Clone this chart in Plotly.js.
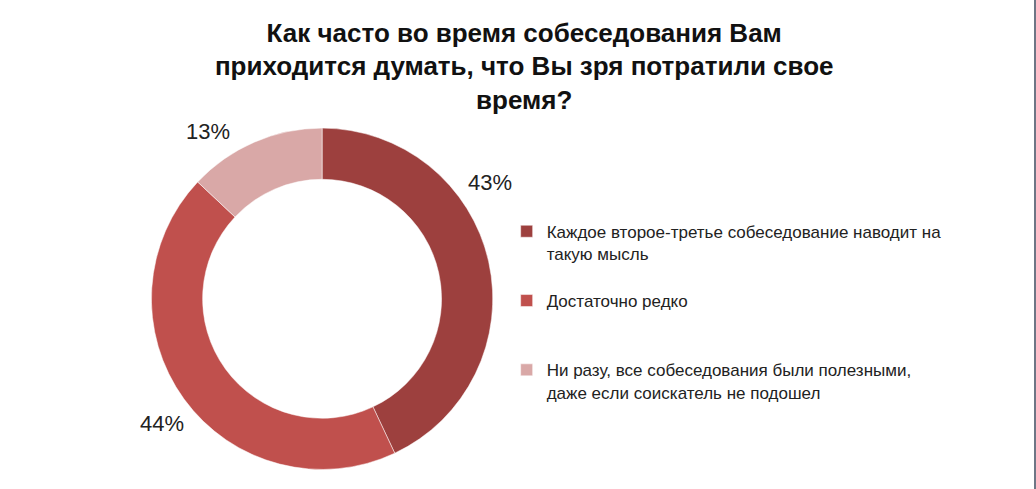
<!DOCTYPE html>
<html>
<head>
<meta charset="utf-8">
<script src="https://cdn.plot.ly/plotly-3.0.1.min.js"></script>
<style>
  body { margin: 0; background: #fff; }
  #chart { width: 1034px; height: 489px; border-right: 2px solid #6e7685; }
</style>
</head>
<body>
<div id="chart"></div>
<script>
"use strict";

var labels = [
  "Каждое второе-третье собеседование наводит на<br>такую мысль<br> ",
  "Достаточно редко<br> <br> ",
  "Ни разу, все собеседования были полезными,<br>даже если соискатель не подошел"
];
var values = [43, 44, 13]; // %
var colors = ["#9D403E", "#C0504D", "#D9A8A7"];

// where Excel put the percent labels (paper fractions)
var labelX = [0.474, 0.157, 0.201];
var labelY = [0.626, 0.133, 0.732];

var data = [{
  type: "pie",
  labels: labels,
  values: values,
  hole: 0.7,
  sort: false,
  direction: "clockwise",
  rotation: 0,
  marker: {colors: colors, line: {color: "#ffffff", width: 0.5}},
  textinfo: "none",
  domain: {x: [0.146, 0.477], y: [0.04, 0.738]},
  hoverinfo: "label+percent"
}];

var annotations = values.map(function (v, i) {
  return {
    text: v + "%",
    x: labelX[i], y: labelY[i],
    xref: "paper", yref: "paper",
    xanchor: "center", yanchor: "middle",
    showarrow: false,
    font: {size: 22, color: "#222222"}
  };
});

var layout = {
  width: 1034,
  height: 489,
  margin: {l: 0, r: 0, t: 0, b: 0},
  paper_bgcolor: "#ffffff",
  font: {family: "Liberation Sans, Arial, sans-serif", color: "#222222"},
  title: {
    text: "<b>Как часто во время собеседования Вам<br>приходится думать, что Вы зря потратили свое<br>время?</b>",
    font: {size: 26, color: "#111111"},
    x: 0.507, xanchor: "center",
    y: 0.915, yanchor: "top"
  },
  annotations: annotations,
  showlegend: true,
  legend: {
    x: 0.49, xanchor: "left",
    y: 0.563, yanchor: "top",
    valign: "top",
    font: {size: 17, color: "#222222"},
    itemwidth: 30
  }
};

Plotly.newPlot("chart", data, layout, {displayModeBar: false, staticPlot: true});
</script>
</body>
</html>
